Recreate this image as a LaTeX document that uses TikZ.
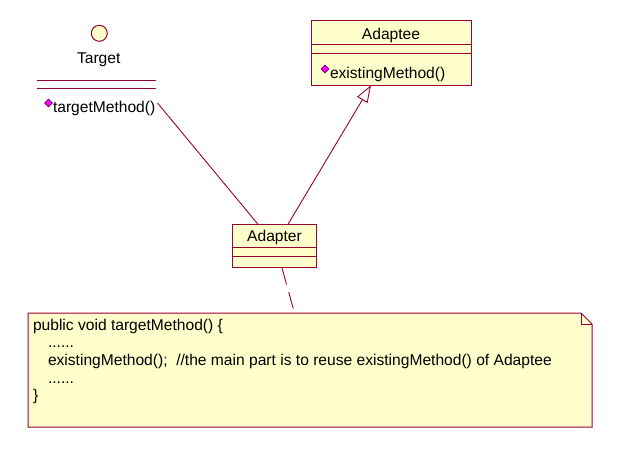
\documentclass[tikz,border=0pt]{standalone}
\usepackage{fontspec}
\setmainfont{Liberation Sans}
\usetikzlibrary{arrows.meta}
\definecolor{umlline}{HTML}{990033}
\definecolor{umlfill}{HTML}{FFFFCC}
\definecolor{opmag}{HTML}{FF00FF}
\definecolor{opedge}{HTML}{660066}
\begin{document}
\begin{tikzpicture}[x=1pt,y=-1pt,
  every node/.style={font=\fontsize{15.6}{18}\selectfont, inner sep=0pt, outer sep=0pt},
  classbox/.style={draw=umlline, fill=umlfill, line width=1pt, rectangle},
  compline/.style={draw=umlline, line width=1pt},
  rel/.style={draw=umlline, line width=0.9pt},
  opicon/.style={draw=opedge, fill=opmag, line width=0.6pt, rectangle, rotate=45, minimum size=5.5pt},
  txt/.style={anchor=base west}]
\useasboundingbox (0,0) rectangle (622,450);

% ---- Target (interface) ----
\node[circle, draw=umlline, fill=umlfill, line width=1pt, minimum size=16pt] (tcirc) at (99.3,33.3) {};
\node (tname) at (98.7,59.5) {Target};
\draw[compline] (36.7,80.3) -- (156,80.3);
\draw[compline] (36.7,88.3) -- (156,88.3);
\node[opicon] (ticon) at (48.5,103) {};
\node[txt] (tmeth) at (53,112) {targetMethod()};
\coordinate (tend) at (157.5,103);

% ---- Adaptee ----
\node[classbox, anchor=north west, minimum width=160.5pt, minimum height=65pt] (adaptee) at (311,20.3) {};
\node (adname) at (391,35) {Adaptee};
\draw[compline] (311,44.3) -- (471.5,44.3);
\draw[compline] (311,53.3) -- (471.5,53.3);
\node[opicon] (aicon) at (325,69) {};
\node[txt] (ameth) at (330,78.5) {existingMethod()};
\coordinate (adbot) at (371,85.3);

% ---- Adapter ----
\node[classbox, anchor=north west, minimum width=84.3pt, minimum height=43pt] (adapter) at (232.3,224.3) {};
\node (adpname) at (274.5,237.5) {Adapter};
\draw[compline] (232.3,247.7) -- (316.6,247.7);
\draw[compline] (232.3,256.5) -- (316.6,256.5);
\coordinate (adpL) at (258,224.3);
\coordinate (adpR) at (288,224.3);
\coordinate (adpB) at (282,268);

% ---- Note ----
\draw[umlline, fill=umlfill, line width=1pt]
  (28,313) -- (581,313) -- (592,324) -- (592,427) -- (28,427) -- cycle;
\draw[umlline, line width=1pt] (581,313) -- (581,324) -- (592,324);
\coordinate (notetop) at (294.5,313);
\node[txt] (n1) at (33,330) {public void targetMethod() \{};
\node[txt] (n2) at (48,347.7) {......};
\node[txt] (n3) at (48,365.4) {existingMethod();\ \ //the main part is to reuse existingMethod() of Adaptee};
\node[txt] (n4) at (48,383) {......};
\node[txt] (n5) at (33,400.8) {\}};

% ---- Connectors ----
\draw[rel] (tend) -- (adpL);
\draw[rel, -{Triangle[open, length=17pt, width=12pt, line width=0.9pt]}] (adpR) -- (adbot);
\draw[rel, dash pattern=on 17pt off 8pt] (adpB) -- (notetop);
\end{tikzpicture}
\end{document}
